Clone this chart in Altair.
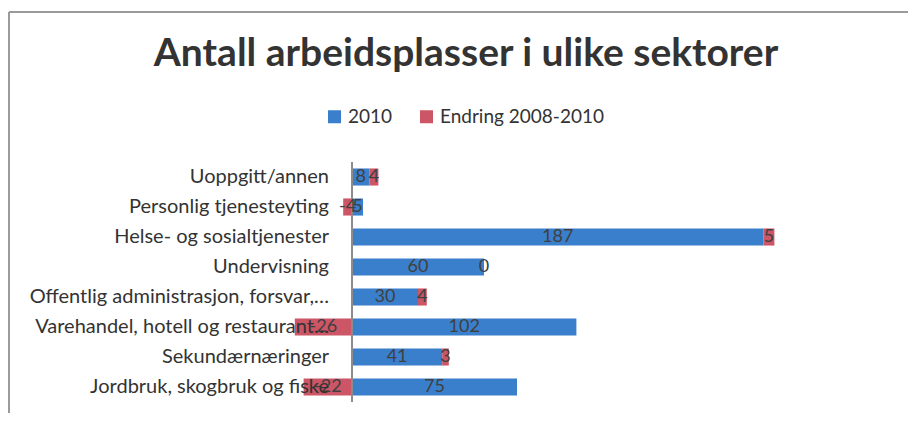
import altair as alt
import pandas as pd

categories = [
    "Uoppgitt/annen",
    "Personlig tjenesteyting",
    "Helse- og sosialtjenester",
    "Undervisning",
    "Offentlig administrasjon, forsvar,…",
    "Varehandel, hotell og restaurant…",
    "Sekundærnæringer",
    "Jordbruk, skogbruk og fiske",
]
v2010 = [8, 5, 187, 60, 30, 102, 41, 75]
endring = [4, -4, 5, 0, 4, -26, 3, -22]
series = ["2010", "Endring 2008-2010"]
colors = ["#3a7fcc", "#cc5566"]

rows = []
for c, a, e in zip(categories, v2010, endring):
    rows.append({"cat": c, "serie": series[0], "start": 0, "end": a, "label": str(a)})
    if e >= 0:
        rows.append({"cat": c, "serie": series[1], "start": a, "end": a + e, "label": str(e)})
    else:
        rows.append({"cat": c, "serie": series[1], "start": e, "end": 0, "label": str(e)})
df = pd.DataFrame(rows)
df["mid"] = (df["start"] + df["end"]) / 2
cats_df = pd.DataFrame({"cat": categories, "zero": [0] * len(categories)})

FONT = "Lato"
xscale = alt.Scale(domain=[-60, 200], nice=False, zero=False)
yenc = alt.Y("cat:N", sort=categories, axis=None,
             scale=alt.Scale(paddingInner=0.43, paddingOuter=0.215))

bars = alt.Chart(df).mark_bar().encode(
    x=alt.X("start:Q", scale=xscale, axis=None),
    x2="end:Q",
    y=yenc,
    color=alt.Color("serie:N", scale=alt.Scale(domain=series, range=colors),
                    legend=alt.Legend(orient="none", legendX=105, legendY=-55,
                                      direction="horizontal", title=None,
                                      symbolType="square", symbolSize=169,
                                      symbolStrokeWidth=0,
                                      labelFont=FONT, labelFontSize=19,
                                      labelLimit=400,
                                      labelColor="#333333", columnPadding=24,
                                      labelOffset=4)),
)

zero_rule = alt.Chart(cats_df).mark_rule(color="#8c8c8c", strokeWidth=1).encode(
    x=alt.X("zero:Q", scale=xscale, axis=None)
)

values = alt.Chart(df).mark_text(font=FONT, fontSize=18, color="#404040",
                                 baseline="middle").encode(
    x=alt.X("mid:Q", scale=xscale, axis=None),
    y=yenc,
    text="label:N",
)

cat_labels = alt.Chart(cats_df).mark_text(font=FONT, fontSize=20, color="#333333",
                                          align="right", baseline="middle", dx=-23).encode(
    x=alt.X("zero:Q", scale=xscale, axis=None),
    y=yenc,
    text="cat:N",
)

frame_top = alt.Chart(cats_df).mark_rule(color="#9a9a9a", strokeWidth=1).encode(
    x=alt.value(-211), x2=alt.value(700), y=alt.value(-150)
)
frame_left = alt.Chart(cats_df).mark_rule(color="#9a9a9a", strokeWidth=1).encode(
    x=alt.value(-211), y=alt.value(-150), y2=alt.value(262)
)

chart = alt.layer(frame_top, frame_left, bars, zero_rule, values, cat_labels).properties(
    width=572,
    height=240,
    autosize=alt.AutoSizeParams(type="none"),
    padding={"left": 212, "top": 154, "right": 116, "bottom": 11},
    title=alt.Title("Antall arbeidsplasser i ulike sektorer", font=FONT, fontSize=39,
                    fontWeight="bold", color="#333333", anchor="middle", dx=-40,
                    offset=-62, frame="group"),
).configure_view(stroke=None)

chart.save("out.html", embed_options={"renderer": "svg", "actions": False})
